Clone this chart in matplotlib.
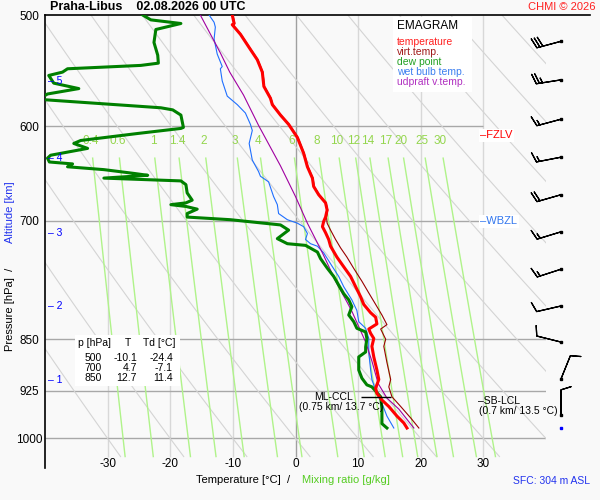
import numpy as np
import matplotlib
matplotlib.use("Agg")
import matplotlib.pyplot as plt
from matplotlib.patches import Rectangle

plt.rcParams['font.family'] = ['Liberation Sans', 'DejaVu Sans']

# temperature [p hPa, T degC]
temp_p = [500, 507, 508, 516, 529, 538, 549, 562, 573, 579, 589, 598, 611, 627, 641, 653, 662,
          671, 680, 688, 696, 701, 707, 714, 722, 730, 743, 755, 767, 780, 793, 803, 814, 820,
          829, 836, 842, 849, 860, 875, 894, 908, 921, 929, 939, 949, 964, 975, 983]
temp_t = [-10.1, -9.8, -10.1, -8.8, -7.2, -6.1, -5.3, -5.05, -4.0, -3.7, -2.4, -1.1, 0.3, 1.3,
          1.9, 2.7, 2.9, 3.7, 4.8, 5.05, 4.8, 4.5, 4.3, 4.8, 5.3, 5.6, 6.6, 7.7, 8.8, 9.6, 10.4,
          10.9, 12.0, 12.8, 13.0, 11.7, 12.0, 12.5, 12.2, 12.5, 13.0, 13.3, 12.8, 13.0, 13.8,
          14.9, 16.2, 17.3, 17.8]

# virtual temperature (above 700 hPa it lies under the temperature line)
virt_p = [500, 507, 508, 516, 529, 538, 549, 562, 573, 579, 589, 598, 611, 627, 641, 653, 662,
          671, 680, 688, 696, 703, 711, 722, 732, 743, 757, 773, 788, 803, 817, 830, 836, 850,
          860, 883, 908, 919, 934, 949, 967, 983]
virt_t = [-10.0, -9.7, -10.0, -8.7, -7.1, -6.0, -5.2, -4.95, -3.9, -3.6, -2.3, -1.0, 0.4, 1.4,
          2.0, 2.8, 3.0, 3.8, 4.9, 5.15, 4.95, 5.05, 5.6, 6.4, 7.2, 8.2, 9.3, 10.6, 11.7, 12.8,
          13.8, 14.6, 13.6, 14.4, 14.1, 14.6, 15.2, 14.9, 15.4, 16.8, 18.4, 19.7]

# dew point
dew_p = [500, 504, 507, 512, 523, 534, 541, 543, 546, 549, 552, 559, 564, 569, 574, 582, 584,
         589, 601, 602, 607, 614, 617, 622, 629, 632, 636, 638, 641, 644, 648, 650, 653, 656,
         660, 669, 677, 680, 682, 684, 687, 692, 696, 699, 705, 711, 721, 727, 729, 737, 745,
         757, 767, 778, 789, 797, 806, 817, 826, 835, 840, 849, 861, 868, 875, 894, 906, 916,
         919, 934, 952, 976, 983]
dew_t = [-24.4, -23.1, -18.3, -22.3, -22.6, -22.0, -21.9, -24.7, -36.4, -37.2, -39.4, -38.6,
         -34.6, -39.6, -41.0, -21.5, -19.6, -18.3, -17.9, -18.3, -25.2, -34.3, -35.4, -33.2,
         -39.1, -39.6, -39.3, -35.6, -36.4, -30.6, -25.8, -23.6, -30.6, -18.3, -17.5, -17.3,
         -16.5, -17.5, -19.9, -17.5, -15.7, -17.3, -17.3, -10.4, -2.4, -1.1, -2.9, -1.3, 1.6,
         3.5, 4.0, 5.1, 6.1, 6.9, 7.7, 8.5, 9.0, 8.5, 9.3, 9.8, 11.2, 11.4, 11.2, 11.2, 10.1,
         10.1, 10.6, 11.4, 12.2, 13.6, 13.8, 13.8, 14.6]

# wet bulb temperature
wet_p = [500, 506, 510, 520, 533, 544, 546, 557, 571, 579, 587, 598, 604, 617, 634, 646, 651,
         657, 673, 682, 692, 699, 703, 707, 715, 722, 727, 730, 738, 755, 767, 780, 797, 811,
         826, 830, 835, 849, 869, 894, 908, 916, 929, 944, 964, 983]
wet_t = [-13.8, -13.0, -12.8, -13.0, -12.5, -11.7, -12.0, -11.7, -10.9, -9.3, -8.0, -7.2, -6.9,
         -7.4, -6.9, -5.9, -5.6, -4.3, -3.5, -2.9, -2.7, -1.3, 0.3, 1.3, 1.9, 1.6, 2.4, 3.5,
         4.5, 5.9, 6.9, 7.7, 9.0, 9.8, 10.1, 10.6, 11.2, 11.7, 11.7, 12.0, 12.2, 12.5, 13.0,
         13.8, 14.6, 15.7]

# updraft virtual temperature
upd_p = [500, 532, 549, 570, 599, 640, 673, 703, 738, 776, 801, 812, 854, 881, 914, 936, 953, 983]
upd_t = [-15.2, -12.0, -10.5, -8.3, -5.9, -2.4, 0.0, 1.9, 4.3, 6.6, 8.3, 9.0, 11.2, 12.2, 13.2,
         14.6, 16.5, 18.9]

# wind (direction deg, speed kt)
wind_p = [522, 556, 593, 631, 671, 713, 758, 805, 854, 907, 962]
wind_dir = [255, 261, 255, 259, 254, 253, 252, 257, 284, 22, 360]
wind_spd = [30, 25, 15, 15, 20, 15, 15, 10, 10, 10, 10]
sfc_p = 983

# altitude marks
alt_km = [1, 2, 3, 4, 5]
alt_p = [908, 805, 714, 632, 557]

mix_ratios = [0.4, 0.6, 1, 1.4, 2, 3, 4, 6, 8, 10, 12, 14, 17, 20, 25, 30]
dry_thetas = list(range(-30, 111, 10))
isotherms = [-30, -20, -10, 0, 10, 20, 30]
isobars = [600, 700, 850, 925, 1000]

table_rows = [("500", "-10.1", "-24.4"), ("700", "4.7", "-7.1"), ("850", "12.7", "11.4")]

bg = '#f9f9f9'
fig = plt.figure(figsize=(6, 5), dpi=100, facecolor=bg)
ax = fig.add_axes([0.075, 0.0634, 0.835, 0.9066], facecolor=bg)
ax.set_yscale('log')
ax.set_ylim(1050, 500)
ax.set_xlim(-40, 40)
p_bot = 1030

# grid
for t in isotherms:
    ax.vlines(t, 500, p_bot, color='#a0a0a0' if t == 0 else '#d8d8d8', lw=1, zorder=1)
for p in isobars:
    ax.hlines(p, -40, 30 if p < 800 else 40, color='#a8a8a8', lw=1, zorder=1)

# dry adiabats
pp = np.linspace(500, p_bot, 80)
for th in dry_thetas:
    ax.plot((th + 273.15) * (pp / 1000.0) ** 0.2857 - 273.15, pp, color='#d4d4d4', lw=0.8, zorder=1)

# mixing ratio lines
pm = np.linspace(632, p_bot, 40)
for w in mix_ratios:
    e = w * pm / (622.0 + w)
    a = np.log(e / 6.112)
    ax.plot(243.5 * a / (17.67 - a), pm, color='#b0f38a', lw=1, zorder=1)
    e0 = w * 615 / (622.0 + w)
    a0 = np.log(e0 / 6.112)
    ax.text(243.5 * a0 / (17.67 - a0), 615, f"{w:g}", color='#94d64e', fontsize=8.5,
            ha='center', va='center', zorder=2)

# profiles
ax.plot(wet_t, wet_p, color='#1f6fff', lw=0.8, zorder=3)
ax.plot(upd_t, upd_p, color='#a000a0', lw=0.8, zorder=3)
ax.plot(dew_t, dew_p, color='#008000', lw=2.2, zorder=4)
ax.plot(virt_t, virt_p, color='#990000', lw=0.8, zorder=4)
ax.plot(temp_t, temp_p, color='#ff0000', lw=2.2, zorder=5)

# wind barbs
d = np.radians(wind_dir)
u = -np.array(wind_spd) * np.sin(d)
v = -np.array(wind_spd) * np.cos(d)
xb = np.full(len(wind_p), 42.4)
ax.barbs(xb, wind_p, u, v, length=6, lw=0.9, color='black', clip_on=False, zorder=6)
ax.plot(xb, wind_p, 's', color='black', ms=2, clip_on=False, zorder=6)
ax.plot(42.4, sfc_p, 's', color='#0000ff', ms=2, clip_on=False, zorder=6)

# levels
ax.text(29.5, 609, "–FZLV", color='#ff0000', fontsize=8, va='center', ha='left', zorder=6,
        bbox=dict(facecolor='white', edgecolor='none', pad=1))
ax.text(29.5, 701, "–WBZL", color='#3377ee', fontsize=8, va='center', ha='left', zorder=6,
        bbox=dict(facecolor='white', edgecolor='none', pad=1))
ax.hlines(934, 10.4, 15.2, color='black', lw=1, zorder=6)
ax.text(6.0, 934, "ML-CCL", fontsize=7.5, ha='center', va='center', zorder=6)
ax.text(7.3, 950, "(0.75 km/ 13.7 °C)", fontsize=7.5, ha='center', va='center', zorder=6)
ax.text(29.2, 940, "–SB-LCL", fontsize=7.5, ha='left', va='center', zorder=6)
ax.text(35.5, 956, "(0.7 km/ 13.5 °C)", fontsize=7.5, ha='center', va='center', zorder=6)

# altitude labels
for km, p in zip(alt_km, alt_p):
    ax.text(-39.6, p, f"– {km}", color='#0000ff', fontsize=7.5, ha='left', va='center', zorder=6)

# legend box
tx = lambda px: (px - 45) / 501
ty = lambda py: (468.3 - py) / 453.3
ax.add_patch(Rectangle((tx(393), ty(92)), 79 / 501, 75 / 453.3,
                       transform=ax.transAxes, facecolor='white', edgecolor='none', zorder=6))
ax.text(tx(397), ty(26), "EMAGRAM", transform=ax.transAxes, fontsize=8.5, va='center', zorder=7)
leg = [("temperature", '#ff2020'), ("virt.temp.", '#a01818'), ("dew point", '#22a022'),
       ("wet bulb temp.", '#3a7ef0'), ("udpraft v.temp.", '#b030c0')]
for i, (name, col) in enumerate(leg):
    ax.text(tx(397), ty(42 + 10 * i), name, color=col, transform=ax.transAxes,
            fontsize=7.5, va='center', zorder=7)

# data table
ax.add_patch(Rectangle((tx(75), ty(386)), 105 / 501, 51 / 453.3,
                       transform=ax.transAxes, facecolor='white', edgecolor='none', zorder=6))
ax.text(tx(78), ty(343), "p [hPa]", transform=ax.transAxes, fontsize=7.5, va='center', zorder=7)
ax.text(tx(128), ty(343), "T", transform=ax.transAxes, fontsize=7.5, va='center', ha='center', zorder=7)
ax.text(tx(143), ty(343), "Td [°C]", transform=ax.transAxes, fontsize=7.5, va='center', zorder=7)
for i, (p, t, td) in enumerate(table_rows):
    y = ty(358 + 10 * i)
    ax.text(tx(102), y, p, transform=ax.transAxes, fontsize=7.5, va='center', ha='right', zorder=7)
    ax.text(tx(137), y, t, transform=ax.transAxes, fontsize=7.5, va='center', ha='right', zorder=7)
    ax.text(tx(173), y, td, transform=ax.transAxes, fontsize=7.5, va='center', ha='right', zorder=7)

# axes
for s in ['right', 'bottom', 'top']:
    ax.spines[s].set_visible(False)
ax.spines['left'].set_linewidth(1.2)
ax.plot([0, 1.088], [1, 1], transform=ax.transAxes, color='black', lw=1.2, clip_on=False)
ax.set_yticks([500, 600, 700, 850, 925, 1000])
ax.set_yticklabels(['500', '600', '700', '850', '925', '1000'])
ax.minorticks_off()
ax.tick_params(axis='y', length=0, pad=11, labelsize=8.5)
for lab in ax.get_yticklabels():
    lab.set_ha('center')
ax.set_xticks([])
for t in isotherms:
    ax.text(t, 1033, str(t), fontsize=8.5, ha='center', va='top')

fig.text(50 / 600, 1 - 7 / 500, "Praha-Libus    02.08.2026 00 UTC", fontsize=9, weight='bold',
         ha='left', va='center')
fig.text(595 / 600, 1 - 7 / 500, "CHMI © 2026", fontsize=8, color='#ff2020', ha='right', va='center')
fig.text(290 / 600, 1 - 480 / 500, "Temperature [°C]  /", fontsize=8, ha='right', va='center')
fig.text(302 / 600, 1 - 480 / 500, "Mixing ratio [g/kg]", fontsize=8, color='#55cc22',
         ha='left', va='center')
fig.text(590 / 600, 1 - 481 / 500, "SFC: 304 m ASL", fontsize=7.5, color='#2233ee',
         ha='right', va='center')
fig.text(10 / 600, 1 - 309 / 500, "Pressure [hPa]  /", fontsize=8, rotation=90,
         ha='center', va='center')
fig.text(10 / 600, 1 - 212 / 500, "Altitude [km]", fontsize=8, color='#2233ee', rotation=90,
         ha='center', va='center')

fig.savefig('out.png', dpi=100, facecolor=bg)
